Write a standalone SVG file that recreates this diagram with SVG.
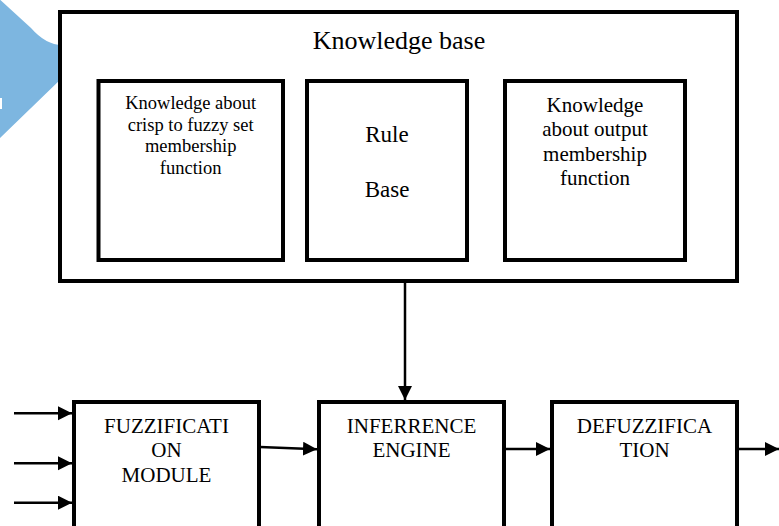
<svg xmlns="http://www.w3.org/2000/svg" width="779" height="526" viewBox="0 0 779 526">
  <style>
    .box { fill: #fff; stroke: #000; stroke-width: 4; }
    .wire { fill: none; stroke: #000; stroke-width: 2.5; marker-end: url(#arrow); }
    .lbl { font-family: 'Liberation Serif', 'Times New Roman', Tinos, 'DejaVu Serif', serif; fill: #000; text-anchor: middle; }
  </style>
  <defs>
    <marker id="arrow" markerUnits="userSpaceOnUse" markerWidth="15" markerHeight="15" viewBox="0 0 15 15" refX="14" refY="7" orient="auto">
      <path d="M0,0 L14,7 L0,14 Z" fill="#000"/>
    </marker>
  </defs>
  <rect width="779" height="526" fill="#fff"/>

  <!-- blue decorative chevron at the top-left edge -->
  <path d="M-4,-4 L31,28 Q46,45 62,45 L62,78 L0,138 L-4,138 Z" fill="#7DB6E0"/>
  <rect x="0" y="98" width="2" height="11" fill="#fff"/>

  <g font-family="Liberation Serif, Times New Roman, serif">
  <!-- knowledge base container -->
  <g id="knowledge-base">
    <rect class="box" x="60" y="12" width="677" height="269"/>
    <text class="lbl" x="399" y="49" font-size="26">Knowledge base</text>
  </g>

  <g id="crisp-to-fuzzy">
    <rect class="box" x="98.5" y="81" width="184.5" height="179"/>
    <text class="lbl" x="190.7" y="109" font-size="18.5">Knowledge about</text>
    <text class="lbl" x="190.7" y="130.7" font-size="18.5">crisp to fuzzy set</text>
    <text class="lbl" x="190.7" y="152" font-size="18.5">membership</text>
    <text class="lbl" x="190.7" y="173.5" font-size="18.5">function</text>
  </g>

  <g id="rule-base">
    <rect class="box" x="307" y="81" width="160" height="179"/>
    <text class="lbl" x="387" y="141.7" font-size="23">Rule</text>
    <text class="lbl" x="387" y="196.7" font-size="23">Base</text>
  </g>

  <g id="output-membership">
    <rect class="box" x="505" y="81" width="180" height="179"/>
    <text class="lbl" x="595" y="111.7" font-size="21">Knowledge</text>
    <text class="lbl" x="595" y="136" font-size="21">about output</text>
    <text class="lbl" x="595" y="160.5" font-size="21">membership</text>
    <text class="lbl" x="595" y="185" font-size="21">function</text>
  </g>

  <!-- processing chain -->
  <g id="fuzzification">
    <rect class="box" x="74" y="402" width="185" height="140"/>
    <text class="lbl" x="166.5" y="433.3" font-size="21">FUZZIFICATI</text>
    <text class="lbl" x="166.5" y="457" font-size="21">ON</text>
    <text class="lbl" x="166.5" y="481.5" font-size="21">MODULE</text>
  </g>

  <g id="inference-engine">
    <rect class="box" x="319" y="402" width="185" height="140"/>
    <text class="lbl" x="411.5" y="432.7" font-size="21">INFERRENCE</text>
    <text class="lbl" x="411.5" y="456.7" font-size="21">ENGINE</text>
  </g>

  <g id="defuzzification">
    <rect class="box" x="552" y="402" width="185" height="140"/>
    <text class="lbl" x="644.5" y="432.7" font-size="21">DEFUZZIFICA</text>
    <text class="lbl" x="644.5" y="456.7" font-size="21">TION</text>
  </g>
  </g>

  <!-- connectors -->
  <g id="connectors">
    <line class="wire" x1="405" y1="283" x2="405" y2="400"/>
    <line class="wire" x1="14" y1="413.3" x2="72" y2="413.3"/>
    <line class="wire" x1="14" y1="463.3" x2="72" y2="463.3"/>
    <line class="wire" x1="14" y1="502.7" x2="72" y2="502.7"/>
    <line class="wire" x1="260" y1="447" x2="317" y2="449.3"/>
    <line class="wire" x1="506" y1="449" x2="550" y2="449"/>
    <line class="wire" x1="739" y1="449" x2="779" y2="449"/>
  </g>
</svg>
